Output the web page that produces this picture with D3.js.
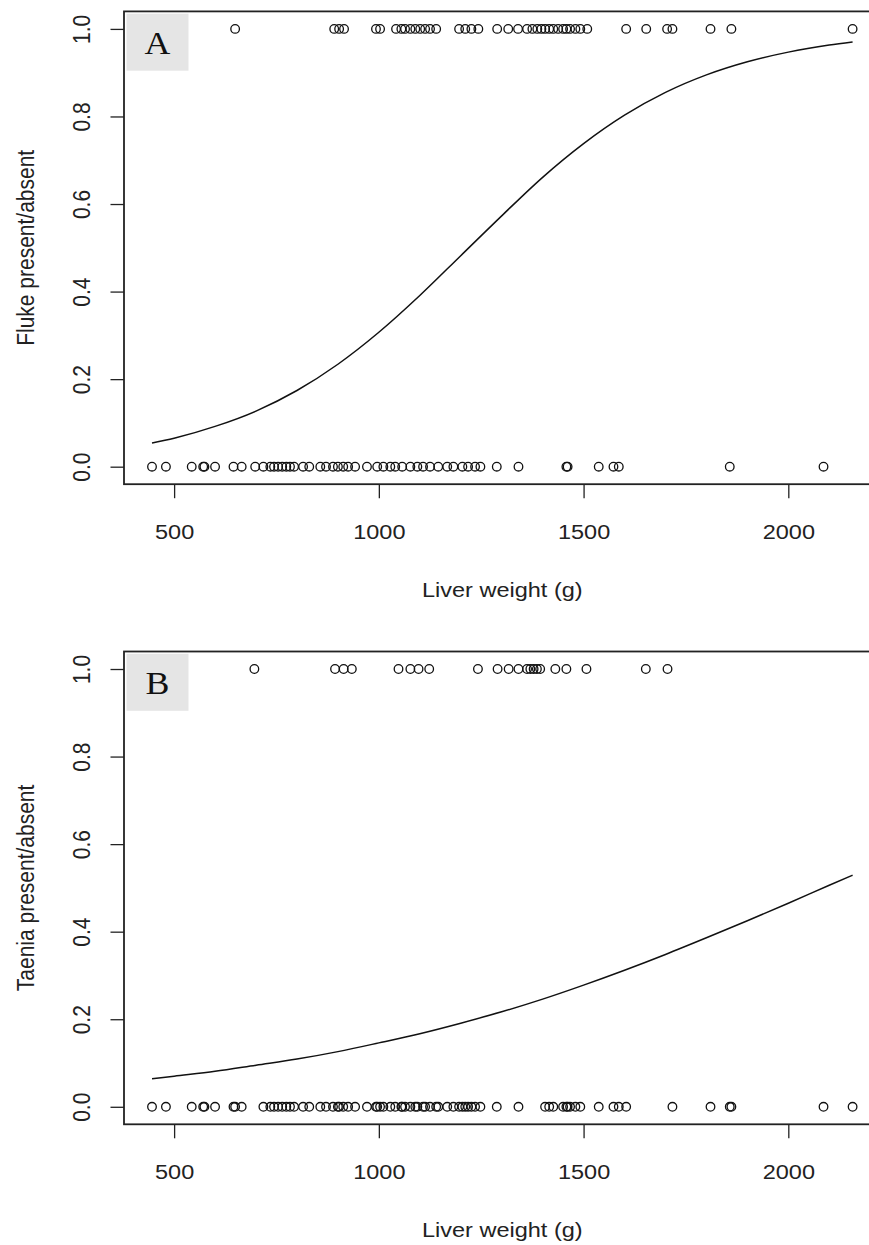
<!DOCTYPE html>
<html>
<head>
<meta charset="utf-8">
<script src="https://cdn.jsdelivr.net/npm/d3@7"></script>
<style>
  html, body { margin: 0; padding: 0; background: #fff; }
  svg { display: block; }
  text { font-family: "Liberation Sans", Arial, sans-serif; fill: #222; }
</style>
</head>
<body>
<script>
// liver weights (g)
var xTicks = [500, 1000, 1500, 2000];
var yTicks = [0, 0.2, 0.4, 0.6, 0.8, 1.0];

var flukePresent = [649, 891, 903, 915, 993, 1003, 1042, 1055, 1064, 1077, 1089, 1101, 1113, 1125, 1140,
  1196, 1211, 1226, 1243, 1289, 1316, 1340, 1362, 1375, 1387, 1397, 1406, 1416, 1426, 1438, 1450, 1458,
  1467, 1480, 1492, 1509, 1604, 1653, 1704, 1717, 1810, 1861, 2157];
var flukeAbsent = [446, 480, 543, 571, 574, 600, 645, 665, 698, 718, 735, 744, 754, 764, 774, 783, 793,
  815, 830, 857, 871, 888, 900, 913, 925, 942, 971, 996, 1011, 1028, 1040, 1057, 1077, 1094, 1108, 1125,
  1145, 1167, 1182, 1204, 1218, 1235, 1248, 1288, 1341, 1458, 1461, 1537, 1573, 1586, 1857, 2086];

var taeniaPresent = [696, 893, 914, 934, 1048, 1077, 1097, 1123, 1242, 1290, 1317, 1341, 1362, 1370,
  1378, 1386, 1394, 1431, 1458, 1507, 1652, 1705];
var taeniaAbsent = [446, 480, 543, 571, 574, 600, 645, 649, 665, 718, 735, 744, 754, 764, 774, 783, 793,
  815, 830, 857, 871, 888, 900, 903, 913, 925, 942, 971, 993, 996, 1003, 1011, 1028, 1040, 1055, 1057,
  1064, 1077, 1089, 1094, 1108, 1113, 1125, 1140, 1145, 1167, 1182, 1196, 1204, 1211, 1218, 1226, 1235,
  1248, 1288, 1341, 1406, 1416, 1426, 1450, 1458, 1461, 1467, 1480, 1492, 1537, 1573, 1586, 1604, 1717,
  1810, 1857, 1861, 2086, 2157];

// fitted curves, read at these weights
var curveWeights = [446, 500, 600, 700, 800, 900, 1000, 1100, 1200, 1300, 1400, 1500, 1600, 1700, 1800,
  1900, 2000, 2100, 2157];
var flukeFit = [0.054, 0.065, 0.092, 0.127, 0.174, 0.234, 0.307, 0.391, 0.482, 0.573, 0.661, 0.738,
  0.803, 0.855, 0.895, 0.925, 0.947, 0.963, 0.970];
var taeniaFit = [0.064, 0.070, 0.081, 0.095, 0.109, 0.126, 0.146, 0.167, 0.191, 0.217, 0.246, 0.278,
  0.312, 0.348, 0.386, 0.425, 0.465, 0.506, 0.529];

var W = 869, H = 1245, SX = 1.12;

var svg = d3.select("body").append("svg")
    .attr("width", W)
    .attr("height", H);

var x = d3.scaleLinear().domain([377.6, 2225.4]).range([124, 880.6]);

drawPanel(svg, { top: 11.4, letter: "A", title: "Fluke present/absent",
  present: flukePresent, absent: flukeAbsent, fit: flukeFit });
drawPanel(svg, { top: 651.5, letter: "B", title: "Taenia present/absent",
  present: taeniaPresent, absent: taeniaAbsent, fit: taeniaFit });

function drawPanel(svg, p) {
  var bottom = p.top + 472.8,
      y = d3.scaleLinear().domain([-0.04, 1.04]).range([bottom, p.top]),
      g = svg.append("g").attr("class", "panel");

  // letter tag
  g.append("rect")
      .attr("x", 126.5).attr("y", p.top + 2.3)
      .attr("width", 62).attr("height", 57)
      .attr("fill", "#e5e5e5");
  g.append("text")
      .attr("transform", "translate(157.5," + (p.top + 42.5) + ") scale(" + SX + ",1)")
      .attr("text-anchor", "middle")
      .style("font-family", "'Liberation Serif', 'Times New Roman', serif")
      .style("font-size", "32px")
      .style("fill", "#111")
      .text(p.letter);

  // curve
  var line = d3.line()
      .x(function(d, i) { return x(curveWeights[i]); })
      .y(function(d) { return y(d); })
      .curve(d3.curveMonotoneX);
  g.append("path")
      .datum(p.fit)
      .attr("d", line)
      .attr("fill", "none")
      .attr("stroke", "#111")
      .attr("stroke-width", 1.5);

  // points
  var pts = p.present.map(function(v) { return [v, 1]; })
      .concat(p.absent.map(function(v) { return [v, 0]; }));
  g.selectAll("circle.pt")
      .data(pts)
    .enter().append("circle")
      .attr("class", "pt")
      .attr("cx", function(d) { return x(d[0]); })
      .attr("cy", function(d) { return y(d[1]); })
      .attr("r", 4.3)
      .attr("fill", "none")
      .attr("stroke", "#111")
      .attr("stroke-width", 1.3);

  // axes
  var ax = g.append("g")
      .attr("transform", "translate(0," + bottom + ")")
      .call(d3.axisBottom(x).tickValues(xTicks).tickSize(14).tickFormat(d3.format("d")));
  ax.select(".domain").remove();
  ax.selectAll("line").attr("stroke", "#222").attr("stroke-width", 1.3);
  ax.selectAll("text")
      .attr("y", null).attr("dy", null)
      .attr("transform", "translate(0,55) scale(" + SX + ",1)")
      .attr("text-anchor", "middle")
      .style("font-size", "21px")
      .attr("fill", null);

  var ay = g.append("g")
      .attr("transform", "translate(124,0)")
      .call(d3.axisLeft(y).tickValues(yTicks).tickSize(13.5).tickFormat(d3.format(".1f")));
  ay.select(".domain").remove();
  ay.selectAll("line").attr("stroke", "#222").attr("stroke-width", 1.3);
  ay.selectAll("text")
      .attr("x", null).attr("dy", null)
      .attr("transform", "translate(-34,0) scale(" + SX + ",1) rotate(-90)")
      .attr("text-anchor", "middle")
      .style("font-size", "21px")
      .attr("fill", null);

  // frame
  g.append("rect")
      .attr("x", 124).attr("y", p.top)
      .attr("width", 880.6 - 124).attr("height", bottom - p.top)
      .attr("fill", "none")
      .attr("stroke", "#222")
      .attr("stroke-width", 1.8);

  // axis titles
  g.append("text")
      .attr("transform", "translate(" + x((377.6 + 2225.4) / 2) + "," + (bottom + 113) + ") scale(" + SX + ",1)")
      .attr("text-anchor", "middle")
      .style("font-size", "21px")
      .text("Liver weight (g)");
  g.append("text")
      .attr("transform", "translate(34," + ((p.top + bottom) / 2) + ") scale(" + SX + ",1) rotate(-90)")
      .attr("text-anchor", "middle")
      .style("font-size", "21px")
      .text(p.title);
}
</script>
</body>
</html>
